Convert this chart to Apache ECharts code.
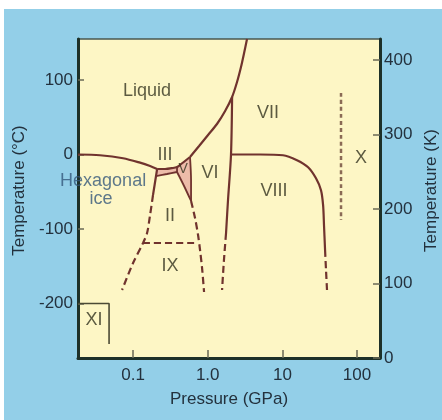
<!DOCTYPE html>
<html>
<head>
<meta charset="utf-8">
<script src="https://cdn.jsdelivr.net/npm/echarts@6/dist/echarts.min.js"></script>
<style>
html,body{margin:0;padding:0;background:#ffffff;width:442px;height:420px;overflow:hidden;}
#c{position:absolute;left:4px;top:9px;width:438px;height:411px;background:#93cfe8;}
</style>
</head>
<body>
<div id="c"></div>
<script>
// ---- ticks ----
const pressureTicks = [0.1, 1, 10, 100];
const pressureTickLabels = ['0.1', '1.0', '10', '100'];
const celsiusTicks = [-200, -100, 0, 100];
const kelvinTicks = [0, 100, 200, 300, 400];

// ---- phase boundaries: [pressure (GPa), temperature (°C)] ----
const liquidIh = [[0.0183, 0], [0.036, -1], [0.0735, -5], [0.124, -11], [0.169, -15.5], [0.21, -19.5]];
const liquidIIIV = [[0.21, -19.5], [0.268, -19.5], [0.343, -18.1], [0.388, -16.8], [0.425, -14.1], [0.579, -3.4]];
const liquidVIVII = [[0.579, -3.4], [0.766, 11.4], [1.01, 26.2], [1.33, 40.9], [1.71, 58.4], [2.12, 77.2], [2.47, 97.3], [2.79, 117.4], [3.07, 136.2], [3.36, 155]];
const ihIIISolid = [[0.21, -19.5], [0.203, -28.9], [0.185, -54.4]];
const ihIIDashed = [[0.185, -54.4], [0.169, -81.2], [0.154, -105.4], [0.136, -118.8], [0.1, -145.6], [0.0712, -181.9]];
const iiiII = [[0.203, -28.9], [0.285, -26.2], [0.388, -23.5]];
const iiiV = [[0.388, -16.8], [0.388, -23.5]];
const iiV = [[0.388, -23.5], [0.482, -42.3], [0.598, -62.4]];
const vVI = [[0.579, -3.4], [0.598, -34.2], [0.598, -62.4]];
const iiVIDashed = [[0.598, -62.4], [0.676, -85.2], [0.742, -108.1], [0.789, -128.2], [0.84, -152.4], [0.893, -184.6]];
const ixLine = [[0.136, -118.8], [0.72, -118.8]];
const viVIISolid = [[2.12, 77.2], [2.05, 0], [1.87, -61.1], [1.76, -105.4]];
const viVIIIDashed = [[1.76, -105.4], [1.65, -141.6], [1.556, -181.9]];
const viiVIIISolid = [[2.05, 0], [5.02, 0], [10.2, -1], [15.7, -7.7], [22.1, -17.1], [28.2, -31.9], [32.9, -48], [35.1, -68], [36.1, -94.9], [37.3, -128.2]];
const viiVIIIDashed = [[37.3, -128.2], [38.4, -155], [39.6, -181.9]];
const xLine = [[61, 82.5], [61, -87.9]];
const xiBox = [[0.0183, -200], [0.0477, -200], [0.0477, -254.4]];

// ---- shaded phase regions ----
const iiiRegion = [[0.21, -19.5], [0.268, -19.5], [0.343, -18.1], [0.388, -16.8], [0.388, -23.5], [0.285, -26.2], [0.203, -28.9]];
const vRegion = [[0.388, -16.8], [0.425, -14.1], [0.579, -3.4], [0.598, -34.2], [0.598, -62.4], [0.482, -42.3], [0.388, -23.5]];

// ---- region labels: [text, pressure, temperature] ----
const regionLabels = [['Liquid', 0.154, 85], ['III', 0.268, -1], ['VI', 1.07, -25], ['VII', 6.4, 56], ['VIII', 7.7, -49], ['X', 113, -5], ['II', 0.313, -83], ['IX', 0.313, -150], ['XI', 0.030, -222]];
const smallLabels = [['V', 0.468, -20]];
const iceLabels = [['Hexagonal', 0.0397, -36], ['ice', 0.0373, -60]];

const FONT = "'Liberation Sans', Arial, sans-serif";
const LINE = '#70332e';
const AXIS = '#1d3028';
const TXT = '#23313d';

function lineSeries(data, type, width) {
  return {
    type: 'line', data: data, showSymbol: false, symbol: 'none', yAxisIndex: 0,
    smooth: 0.3, z: 3, silent: true,
    lineStyle: { color: LINE, width: width || 2.2, type: type || 'solid' }
  };
}
const fills = [iiiRegion, vRegion];

function labelSeries(list, size, color) {
  return {
    type: 'scatter', yAxisIndex: 0, symbolSize: 1, z: 10, clip: false, silent: true,
    itemStyle: { color: 'rgba(0,0,0,0)' },
    data: list.map(r => [r[1], r[2], r[0]]),
    label: { show: true, position: 'inside', formatter: p => p.value[2], fontFamily: FONT, fontSize: size, color: color }
  };
}

const chart = echarts.init(document.getElementById('c'), null, { renderer: 'canvas' });
const option = {
  animation: false,
  backgroundColor: 'transparent',
  grid: { left: 74, right: 62, top: 30, bottom: 62, outerBoundsMode: 'none', containLabel: false, show: true, backgroundColor: '#fdf6c5', borderColor: '#4a5850', borderWidth: 1.5 },
  xAxis: {
    type: 'log', logBase: 10, min: 0.0183, max: 203,
    name: 'Pressure (GPa)', nameLocation: 'middle', nameGap: 33,
    nameTextStyle: { fontFamily: FONT, fontSize: 17, color: TXT },
    axisLine: { show: true, onZero: false, lineStyle: { color: AXIS, width: 3 } },
    axisTick: { show: true, inside: true, length: 8, lineStyle: { color: '#6a6a55', width: 1.5 } },
    axisLabel: {
      showMinLabel: false, showMaxLabel: false, margin: 9, fontFamily: FONT, fontSize: 17, color: TXT,
      formatter: v => {
        const i = pressureTicks.findIndex(t => Math.abs(Math.log10(t) - Math.log10(v)) < 1e-6);
        return i >= 0 ? pressureTickLabels[i] : '';
      }
    },
    splitLine: { show: false }, minorTick: { show: false }
  },
  yAxis: [
    {
      type: 'value', position: 'left', min: -273.15, max: 155,
      name: 'Temperature (°C)', nameLocation: 'middle', nameGap: 50, nameRotate: 90,
      nameTextStyle: { fontFamily: FONT, fontSize: 17, color: TXT, padding: [0, 0, 0, 16] },
      axisLine: { show: true, onZero: false, lineStyle: { color: AXIS, width: 3 } },
      axisTick: { show: true, inside: true, length: 6, customValues: celsiusTicks, lineStyle: { color: '#6a6a55', width: 1.5 } },
      axisLabel: { margin: 5, customValues: celsiusTicks, fontFamily: FONT, fontSize: 17, color: TXT },
      splitLine: { show: false }
    },
    {
      type: 'value', position: 'right', min: 0, max: 428.15,
      name: 'Temperature (K)', nameLocation: 'middle', nameGap: 38, nameRotate: 90,
      nameTextStyle: { fontFamily: FONT, fontSize: 17, color: TXT, padding: [0, 0, 0, 16] },
      axisLine: { show: true, onZero: false, lineStyle: { color: AXIS, width: 3 } },
      axisTick: { show: true, inside: true, length: 7, customValues: kelvinTicks, lineStyle: { color: '#6a6a55', width: 1.5 } },
      axisLabel: { margin: 4, customValues: kelvinTicks, fontFamily: FONT, fontSize: 17, color: TXT },
      splitLine: { show: false }
    }
  ],
  series: [
    {
      type: 'custom', yAxisIndex: 0, z: 1, silent: true,
      data: fills.map(f => f[0]),
      renderItem: (params, api) => ({
        type: 'polygon',
        shape: { points: fills[params.dataIndex].map(p => api.coord(p)) },
        style: { fill: 'rgba(226,150,150,0.6)' }
      })
    },
    lineSeries(liquidIh),
    lineSeries(liquidIIIV),
    lineSeries(liquidVIVII),
    lineSeries(ihIIISolid),
    lineSeries(ihIIDashed, [7, 4]),
    lineSeries(iiiII, 'solid', 1.8),
    lineSeries(iiiV, 'solid', 1.8),
    lineSeries(iiV, 'solid', 1.8),
    lineSeries(vVI, 'solid', 1.8),
    lineSeries(iiVIDashed, [7, 4]),
    lineSeries(ixLine, [7, 4]),
    lineSeries(viVIISolid),
    lineSeries(viVIIIDashed, [7, 4]),
    lineSeries(viiVIIISolid),
    lineSeries(viiVIIIDashed, [7, 4]),
    Object.assign(lineSeries(xLine, [4, 3], 2.5), { lineStyle: { color: '#8a6a55', width: 2.5, type: [4, 3] } }),
    Object.assign(lineSeries(xiBox, 'solid', 1.6), { smooth: false, lineStyle: { color: '#4b4a35', width: 1.6 } }),
    labelSeries(regionLabels, 18, '#33331f'),
    labelSeries(smallLabels, 14, '#33331f'),
    labelSeries(iceLabels, 18, '#34587a')
  ]
};
chart.setOption(option);
</script>
</body>
</html>
